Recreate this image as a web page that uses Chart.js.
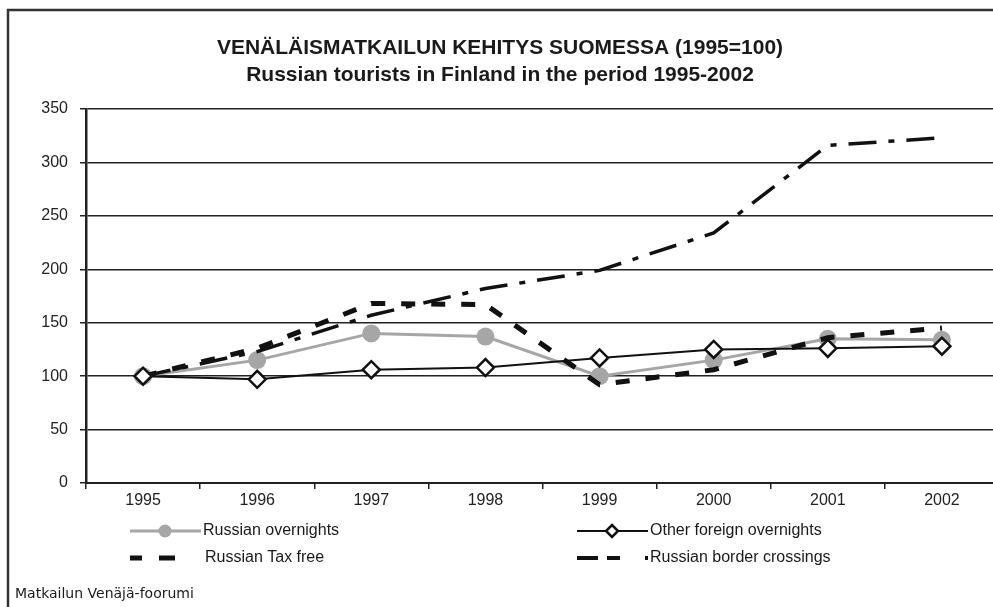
<!DOCTYPE html>
<html>
<head>
<meta charset="utf-8">
<script src="https://cdn.jsdelivr.net/npm/chart.js@4/dist/chart.umd.min.js"></script>
<style>
  html, body { margin: 0; padding: 0; background: #fff; overflow: hidden; }
  #wrap { position: absolute; left: 0; top: 0; width: 1010px; height: 607px; }
</style>
</head>
<body>
<div id="wrap"><canvas id="myChart" width="1010" height="607"></canvas></div>
<script>
const vuodet = ["1995", "1996", "1997", "1998", "1999", "2000", "2001", "2002"];
const russianOvernights = [100, 115, 140, 137, 100, 115, 135, 134];
const otherForeign = [100, 97, 106, 108, 117, 125, 126, 128];
const russianTaxFree = [100, 126, 168, 167, 92, 106, 136, 145];
const borderCrossings = [100, 123, 157, 182, 199, 234, 316, 323];
const yTicks = [0, 50, 100, 150, 200, 250, 300, 350];

const otsikko = [
  "VENÄLÄISMATKAILUN KEHITYS SUOMESSA (1995=100)",
  "Russian tourists in Finland in the period 1995-2002"
];
const selitteet = ["Russian overnights", "Other foreign overnights", "Russian Tax free", "Russian border crossings"];
const lahde = "Matkailun Venäjä-foorumi";

const FONT = "'Liberation Sans', Arial, sans-serif";

// otsikko, selitteet, lähde ja kehys piirretään itse
const kehys = {
  id: "kehys",
  afterDraw(chart) {
    const ctx = chart.ctx;
    ctx.save();
    ctx.strokeStyle = "#333";
    ctx.lineWidth = 2.5;
    ctx.strokeRect(8, 10, 1100, 700);

    ctx.fillStyle = "#1a1a1a";
    ctx.textAlign = "center";
    ctx.textBaseline = "middle";
    ctx.font = "bold 21px " + FONT;
    ctx.fillText(otsikko[0], 500, 48);
    ctx.fillText(otsikko[1], 500, 75);

    // selitteet
    ctx.textAlign = "left";
    ctx.font = "16px " + FONT;
    const r1 = 531, r2 = 558;

    ctx.strokeStyle = "#a6a6a6";
    ctx.lineWidth = 3;
    ctx.beginPath(); ctx.moveTo(130, r1); ctx.lineTo(201, r1); ctx.stroke();
    ctx.fillStyle = "#a6a6a6";
    ctx.beginPath(); ctx.arc(165, r1, 6.5, 0, Math.PI * 2); ctx.fill();
    ctx.fillStyle = "#1a1a1a";
    ctx.fillText(selitteet[0], 203, r1);

    ctx.strokeStyle = "#111";
    ctx.lineWidth = 2;
    ctx.beginPath(); ctx.moveTo(577, r1); ctx.lineTo(648, r1); ctx.stroke();
    ctx.fillStyle = "#fff";
    ctx.lineWidth = 2.5;
    ctx.beginPath();
    ctx.moveTo(612, r1 - 6); ctx.lineTo(618, r1); ctx.lineTo(612, r1 + 6); ctx.lineTo(606, r1);
    ctx.closePath(); ctx.fill(); ctx.stroke();
    ctx.fillStyle = "#1a1a1a";
    ctx.fillText(selitteet[1], 650, r1);

    ctx.fillStyle = "#111";
    ctx.fillRect(130, r2 - 2.5, 12, 5);
    ctx.fillRect(159, r2 - 2.5, 16, 5);
    ctx.fillStyle = "#1a1a1a";
    ctx.fillText(selitteet[2], 205, r2);

    ctx.fillStyle = "#111";
    ctx.fillRect(577, r2 - 2, 21, 4);
    ctx.fillRect(607, r2 - 2, 13, 4);
    ctx.fillRect(645, r2 - 2, 3, 4);
    ctx.fillStyle = "#1a1a1a";
    ctx.fillText(selitteet[3], 650, r2);

    ctx.font = "14px 'Comic Sans MS', 'DejaVu Sans', sans-serif";
    ctx.textBaseline = "alphabetic";
    ctx.fillText(lahde, 15, 598);
    ctx.restore();
  }
};

const config = {
  type: "line",
  data: {
    labels: vuodet,
    datasets: [
      {
        label: selitteet[0],
        data: russianOvernights,
        borderColor: "#a6a6a6",
        backgroundColor: "#a6a6a6",
        borderWidth: 3,
        pointStyle: "circle",
        pointRadius: 9,
        pointBorderWidth: 0,
        order: 4
      },
      {
        label: selitteet[1],
        data: otherForeign,
        borderColor: "#111",
        backgroundColor: "#fff",
        borderWidth: 2,
        pointStyle: "rectRot",
        pointRadius: 8.5,
        pointBorderWidth: 2.5,
        order: 1
      },
      {
        label: selitteet[2],
        data: russianTaxFree,
        borderColor: "#111",
        borderWidth: 5,
        borderDash: [14, 16],
        pointRadius: 0,
        order: 3
      },
      {
        label: selitteet[3],
        data: borderCrossings,
        borderColor: "#111",
        borderWidth: 3.5,
        borderDash: [28, 12, 6, 12],
        pointRadius: 0,
        order: 2
      }
    ]
  },
  options: {
    responsive: false,
    animation: false,
    events: [],
    layout: { padding: { top: 109, left: 8, right: 11, bottom: 0 } },
    plugins: {
      legend: { display: false },
      title: { display: false },
      tooltip: { enabled: false }
    },
    scales: {
      x: {
        offset: true,
        grid: {
          offset: true,
          drawOnChartArea: false,
          drawTicks: true,
          tickLength: 6,
          color: "#222",
          lineWidth: 1.5
        },
        border: { color: "#222", width: 2 },
        ticks: { color: "#222", font: { family: FONT, size: 16 }, padding: 2 },
        afterFit(scale) { scale.height = 124; }
      },
      y: {
        min: 0,
        max: 350,
        afterBuildTicks(scale) { scale.ticks = yTicks.map(v => ({ value: v })); },
        grid: { color: "#222", lineWidth: 1.5, tickLength: 6 },
        border: { color: "#222", width: 2.5 },
        ticks: { color: "#222", font: { family: FONT, size: 16 }, padding: 12 },
        afterFit(scale) { scale.width = 78; }
      }
    }
  },
  plugins: [kehys]
};

const myLineChart = new Chart(document.querySelector("#myChart"), config);
</script>
</body>
</html>
